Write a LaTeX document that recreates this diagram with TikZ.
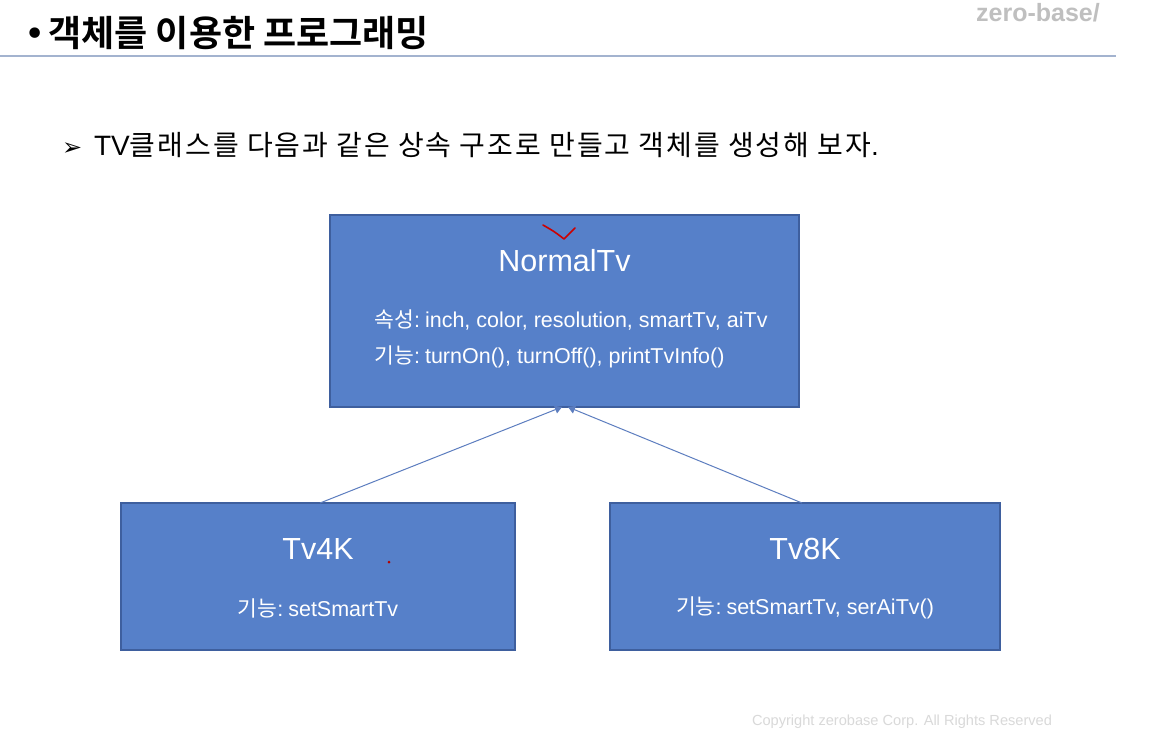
\documentclass[tikz,border=0pt]{standalone}
\usepackage{fontspec}
\setmainfont{Liberation Sans}
\newfontfamily\kr{Noto Sans CJK KR}
\newfontfamily\krw[LetterSpace=7]{Noto Sans CJK KR}
\newfontfamily\krb{Noto Sans CJK KR Bold}
\newfontfamily\dv{DejaVu Sans}
\usetikzlibrary{arrows.meta}
\definecolor{boxfill}{HTML}{5680C9}
\definecolor{boxline}{HTML}{3E5F9E}
\definecolor{rule}{HTML}{A3B3CF}
\definecolor{arrowc}{HTML}{5C7DBF}
\tikzset{
  cls/.style={draw=boxline, line width=1.2pt, fill=boxfill, inner sep=0pt},
  title/.style={text=white, font=\fontsize{30.5}{34}\selectfont, anchor=center},
  body/.style={text=white, font=\fontsize{21.5}{26}\selectfont, anchor=west},
  inh/.style={draw=arrowc, line width=1pt, -{Triangle[width=8pt,length=7pt]}}
}
\begin{document}
\begin{tikzpicture}[x=1pt,y=-1pt]
\useasboundingbox (0,0) rectangle (1154,750);
\fill[white] (0,0) rectangle (1154,750);
% header
\node[anchor=base east, text=black!25, font=\bfseries\fontsize{25}{25}\selectfont, inner sep=0pt] (logo) at (1100,21) {zero-base/};
\node[anchor=west, inner sep=0pt, font=\fontsize{36}{42}\selectfont] (head) at (24,33) {{\dv•}\kern3pt{\krb 객체를 이용한 프로그래밍}};
\draw[rule, line width=1.6pt] (0,56) -- (1116,56);
\node[anchor=west, inner sep=0pt, font=\fontsize{28}{32}\selectfont] (sub) at (62,145) {{\dv\fontsize{24}{26}\selectfont ➢}\kern4pt\ TV{\krw 클래스를 다음과 같은 상속 구조로 만들고 객체를 생성해 보자}.};
% boxes
\path[cls] (330,215) rectangle (799,407);
\node[title] (ntitle) at (564.5,261) {NormalTv};
\node[body] (nattr) at (371,320) {{\kr 속성}:\kern-1pt\ inch, color, resolution, smartTv, aiTv};
\node[body] (nfunc) at (371,357) {{\kr 기능}:\kern-1pt\ turnOn(), turnOff(), printTvInfo()};
\path[cls] (121,503) rectangle (515,650);
\node[title] (t4title) at (318,549) {Tv4K};
\node[body, anchor=center] (t4func) at (318,608) {{\kr 기능}:\kern-1pt\ setSmartTv};
\path[cls] (610,503) rectangle (1000,650);
\node[title] (t8title) at (805,549) {Tv8K};
\node[body, anchor=center] (t8func) at (805,608) {{\kr 기능}:\kern-1pt\ setSmartTv, serAiTv()};
% connectors
\coordinate (ntb1) at (562,407);
\coordinate (ntb2) at (568,407);
\coordinate (t4top) at (320,503);
\coordinate (t8top) at (802,503);
\draw[inh] (t4top) -- (ntb1);
\draw[inh] (t8top) -- (ntb2);
% red annotations
\draw[red!80!black, line width=1.6pt, line cap=round, line join=round] (543,225) .. controls (555,232) .. (564,239) -- (575,228);
\fill[red!70!black] (389,562) circle (1.5pt);
% footer
\node[anchor=center, text=black!15, font=\fontsize{14.6}{16}\selectfont] (copy) at (902,722) {Copyright zerobase Corp. All Rights Reserved};
\end{tikzpicture}
\end{document}
